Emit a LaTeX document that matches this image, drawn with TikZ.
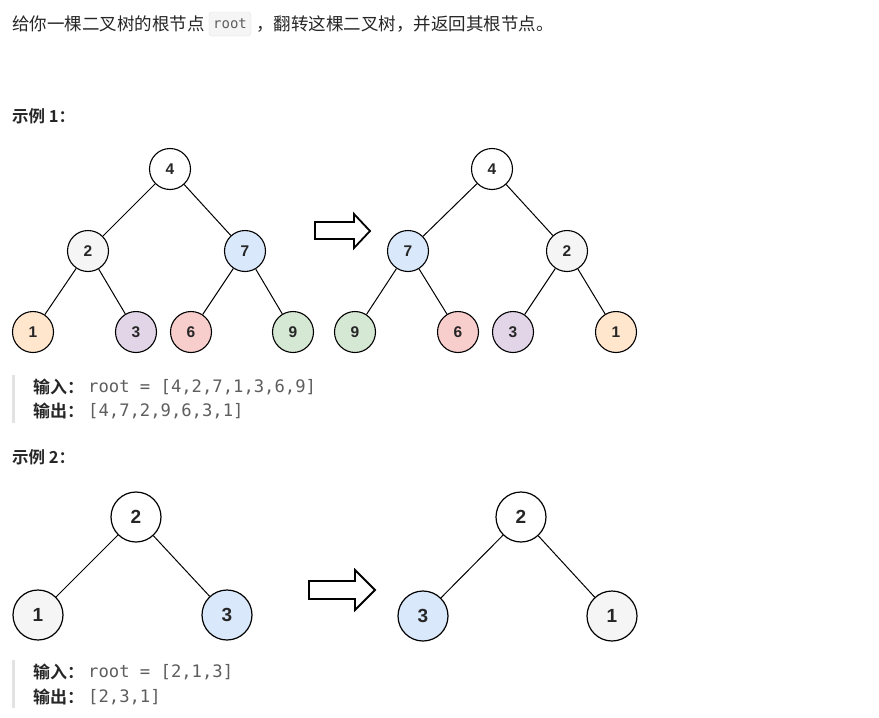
\documentclass[tikz,border=0pt]{standalone}
\usepackage{fontspec}
\setmainfont{Liberation Sans}
\newfontfamily\cjk[BoldFont={Noto Sans CJK SC Bold}]{Noto Sans CJK SC}
\newfontfamily\mono{DejaVu Sans Mono}
\definecolor{cwhite}{HTML}{FFFFFF}
\definecolor{cgray}{HTML}{F5F5F5}
\definecolor{cblue}{HTML}{DAE8FC}
\definecolor{corange}{HTML}{FFE6CC}
\definecolor{cpurple}{HTML}{E1D5E7}
\definecolor{cred}{HTML}{F8CECC}
\definecolor{cgreen}{HTML}{D5E8D4}
\definecolor{codegray}{HTML}{5E5E5E}
\definecolor{txt}{HTML}{262626}
\definecolor{barc}{HTML}{E3E3E3}
\tikzset{
  tn/.style={circle, draw=black, line width=1.1pt, minimum size=41pt, inner sep=0pt, font=\bfseries\fontsize{15.5}{15.5}\selectfont, text=black!85},
  tnb/.style={circle, draw=black, line width=1.2pt, minimum size=50pt, inner sep=0pt, font=\bfseries\fontsize{19}{19}\selectfont, text=black!85},
  edge/.style={line width=1pt, black},
  bigarrow/.style={draw=black, line width=1.8pt, fill=white, line join=miter},
  para/.style={anchor=west, inner sep=0pt, text=txt, font=\cjk\fontsize{17.5}{17.5}\selectfont},
  hdr/.style={anchor=west, inner sep=0pt, text=txt, font=\cjk\bfseries\fontsize{16.5}{16.5}\selectfont},
  lab/.style={anchor=west, inner sep=0pt, text=txt, font=\cjk\bfseries\fontsize{17}{17}\selectfont},
  code/.style={anchor=west, inner sep=0pt, text=codegray, font=\mono\fontsize{17.2}{17.2}\selectfont},
  bar/.style={fill=barc, draw=none}
}
\begin{document}
\begin{tikzpicture}[x=1pt, y=-1pt]
\useasboundingbox (0,0) rectangle (879,718);
\fill[white] (0,0) rectangle (879,718);

% top paragraph
\node[para] (p1) at (12,24) {给你一棵二叉树的根节点};
\node[draw=black!10, fill=black!4, rounded corners=3pt, minimum width=42pt, minimum height=24pt, inner sep=0pt, text=codegray, font=\mono\fontsize{14}{14}\selectfont] (pc) at (230,24) {root};
\node[para] (p2) at (256,24) {，翻转这棵二叉树，并返回其根节点。};

% example 1 header
\node[hdr] (h1) at (12,116) {示例 1：};

% example 1 left tree
\node[tn, fill=cwhite] (a4) at (170,169) {4};
\node[tn, fill=cgray] (a2) at (88,251) {2};
\node[tn, fill=cblue] (a7) at (245,251) {7};
\node[tn, fill=corange] (a1) at (33,332) {1};
\node[tn, fill=cpurple] (a3) at (136,332) {3};
\node[tn, fill=cred] (a6) at (191,332) {6};
\node[tn, fill=cgreen] (a9) at (293,332) {9};
\draw[edge] (a4) -- (a2);
\draw[edge] (a4) -- (a7);
\draw[edge] (a2) -- (a1);
\draw[edge] (a2) -- (a3);
\draw[edge] (a7) -- (a6);
\draw[edge] (a7) -- (a9);

% arrow 1
\draw[bigarrow] (315,222) -- (354,222) -- (354,214) -- (370,231) -- (354,248) -- (354,239) -- (315,239) -- cycle;

% example 1 right tree
\node[tn, fill=cwhite] (b4) at (492,169) {4};
\node[tn, fill=cblue] (b7) at (408,251) {7};
\node[tn, fill=cgray] (b2) at (567,251) {2};
\node[tn, fill=cgreen] (b9) at (355,332) {9};
\node[tn, fill=cred] (b6) at (458,332) {6};
\node[tn, fill=cpurple] (b3) at (513,332) {3};
\node[tn, fill=corange] (b1) at (616,332) {1};
\draw[edge] (b4) -- (b7);
\draw[edge] (b4) -- (b2);
\draw[edge] (b7) -- (b9);
\draw[edge] (b7) -- (b6);
\draw[edge] (b2) -- (b3);
\draw[edge] (b2) -- (b1);

% example 1 quote
\fill[bar] (12,375) rectangle (14.5,423);
\node[lab] (i1) at (33,387) {输入：};
\node[code] (c1) at (88,387) {root = [4,2,7,1,3,6,9]};
\node[lab] (o1) at (33,411) {输出：};
\node[code] (c2) at (88,411) {[4,7,2,9,6,3,1]};

% example 2 header
\node[hdr] (h2) at (12,457) {示例 2：};

% example 2 left tree
\node[tnb, fill=cwhite] (d2) at (136,517) {2};
\node[tnb, fill=cgray] (d1) at (38,615) {1};
\node[tnb, fill=cblue] (d3) at (227,615) {3};
\draw[edge] (d2) -- (d1);
\draw[edge] (d2) -- (d3);

% arrow 2
\draw[bigarrow] (309,581) -- (355,581) -- (355,570) -- (375,590) -- (355,610) -- (355,599) -- (309,599) -- cycle;

% example 2 right tree
\node[tnb, fill=cwhite] (e2) at (521,517) {2};
\node[tnb, fill=cblue] (e3) at (423,616) {3};
\node[tnb, fill=cgray] (e1) at (612,616) {1};
\draw[edge] (e2) -- (e3);
\draw[edge] (e2) -- (e1);

% example 2 quote
\fill[bar] (12,660) rectangle (14.5,708);
\node[lab] (i2) at (33,672) {输入：};
\node[code] (c3) at (88,672) {root = [2,1,3]};
\node[lab] (o2) at (33,697) {输出：};
\node[code] (c4) at (88,697) {[2,3,1]};
\end{tikzpicture}
\end{document}
